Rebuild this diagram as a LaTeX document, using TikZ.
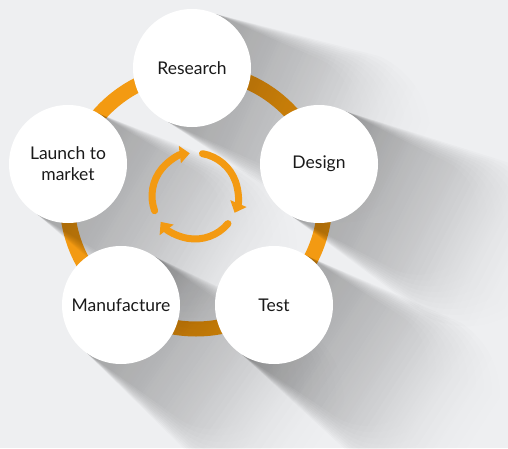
\documentclass[tikz,border=0pt]{standalone}
\usepackage{fontspec}
\setmainfont{Lato}
\usepackage{xcolor}
\usepackage{tikz}
\usetikzlibrary{arrows.meta}
\usetikzlibrary{fadings}
\usetikzlibrary{backgrounds}
\definecolor{pagebg}{HTML}{EEEFF1}
\definecolor{ringorange}{HTML}{F39A12}
\definecolor{labeltext}{HTML}{1A1A1A}
\tikzfading[name=shadowfade, left color=transparent!0, right color=transparent!100]
\newcommand{\longshadow}[2]{%
\begin{scope}[transform canvas={shift={(#1)}, rotate=#2}]
    \foreach \k in {0,...,9}
        \fill[shadowfill] (0,59) -- (112+6*\k,60+3*\k)
            arc [start angle=90, end angle=-90, radius=60+3*\k] -- (0,-59) -- cycle;
\end{scope}
}
\tikzstyle{stage} = [circle, fill=white, minimum size=118pt, inner sep=0pt,
text=labeltext, align=center, font=\fontsize{17.5}{21}\selectfont]
\tikzstyle{ring} = [draw=ringorange, line width=15pt]
\tikzstyle{shadowfill} = [fill=black, fill opacity=0.036, path fading=shadowfade]
\tikzstyle{cycarrow} = [draw=ringorange, line width=7pt, line cap=round,
-{Triangle[width=17pt, length=10pt]}]

\begin{document}
\begin{tikzpicture}[x=1pt, y=1pt]
        \useasboundingbox (0,0) rectangle (508,448);
        \node [stage] (research) at (192,380) {Research};
        \node [stage] (design) at (319,284) {Design};
        \node [stage] (test) at (274,143) {Test};
        \node [stage] (manufacture) at (121,143) {Manufacture};
        \node [stage] (launch) at (68,284) {Launch to\\market};
        \coordinate (hub) at (196,248);
        \coordinate (icon) at (195,252);
        \begin{pgfonlayer}{background}
            \fill [pagebg] (0,0) rectangle (508,448);
            \draw [ring] (hub) circle [radius=129];
            % long shadows
            \longshadow{research}{-24}
            \longshadow{design}{-27}
            \longshadow{launch}{-31}
            \longshadow{test}{-33}
            \longshadow{manufacture}{-35}
            % cycle icon
            \draw [cycarrow] (icon) ++(200:43) arc [start angle=200, end angle=97, radius=43];
            \draw [cycarrow] (icon) ++(80:43) arc [start angle=80, end angle=-23, radius=43];
            \draw [cycarrow] (icon) ++(-40:43) arc [start angle=-40, end angle=-143, radius=43];
        \end{pgfonlayer}
    \end{tikzpicture}
\end{document}
